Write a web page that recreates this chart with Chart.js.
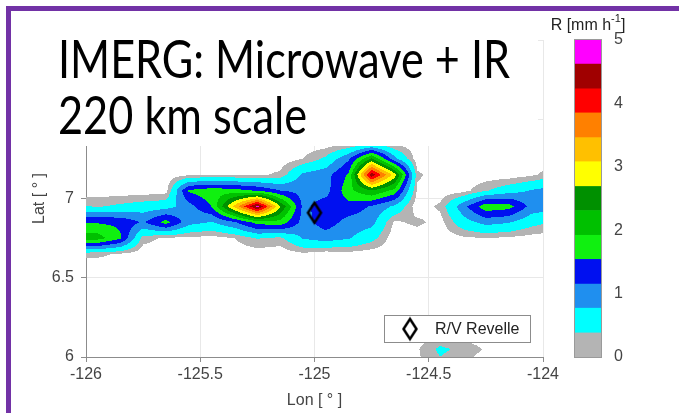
<!DOCTYPE html>
<html>
<head>
<meta charset="utf-8">
<script src="https://cdn.jsdelivr.net/npm/chart.js@4.4.1/dist/chart.umd.min.js"></script>
<style>
  html, body { margin: 0; padding: 0; background: #fff; }
  #wrap { position: relative; width: 679px; height: 413px; overflow: hidden; background: #fff; }
  #mapChart { position: absolute; left: 0; top: 0; }
  #barChart { position: absolute; left: 540px; top: 0; }
  #frame { position: absolute; left: 6px; top: 6px; width: 700px; height: 420px;
           border-left: 5px solid #7232a6; border-top: 5px solid #7232a6; pointer-events: none; }
</style>
</head>
<body>
<div id="wrap">
  <canvas id="mapChart" width="679" height="413"></canvas>
  <canvas id="barChart" width="139" height="413"></canvas>
  <div id="frame"></div>
</div>
<script>
// grid node longitudes (0.1 deg), west -> east
const lons = [-126.05, -125.95, -125.85, -125.75, -125.65, -125.55, -125.45, -125.35, -125.25, -125.15, -125.05,
              -124.95, -124.85, -124.75, -124.65, -124.55, -124.45, -124.35, -124.25, -124.15, -124.05, -123.95];
// grid node latitudes, north -> south (one row of rain per latitude)
const lats = [7.45, 7.35, 7.25, 7.15, 7.05, 6.95, 6.85, 6.75, 6.65, 6.55, 6.45, 6.35, 6.25, 6.15, 6.05, 5.95];

// rain rate R [mm/h]
const rain = [
  [0,    0,    0,    0,    0,    0,    0,    0,    0,    0,    0,    0,    0,    0,    0,    0,    0,    0,    0,    0,    0,    0   ],
  [0,    0,    0,    0,    0,    0,    0,    0,    0,    0,    0,    0,    0.05, 0.18, 0.05, 0,    0,    0,    0,    0,    0,    0   ],
  [0,    0,    0,    0,    0,    0,    0,    0,    0,    0,    0.15, 0.45, 1.1,  2.4,  0.9,  0,    0,    0,    0,    0,    0,    0   ],
  [0,    0,    0,    0,    0,    0.1,  0.1,  0.1,  0.1,  0.2,  0.85, 1.0,  1.6,  4.5,  2.9,  0.2,  0,    0,    0,    0,    0.1,  0.3 ],
  [0,    0,    0,    0,    0.05, 1.6,  1.8,  1.7,  1.5,  1.15, 1.0,  1.0,  1.8,  2.3,  1.8,  0.1,  0,    0.05, 0.35, 0.6,  0.8,  0.95],
  [0.45, 0.35, 0.45, 0.55, 0.6,  1.0,  1.55, 3.2,  4.75, 2.7,  1.05, 1.35, 1.4,  1.1,  0.7,  0,    0.2,  1.0,  1.8,  1.7,  1.0,  0.9 ],
  [1.5,  1.5,  1.45, 1.1,  1.7,  0.9,  0.75, 1.1,  1.7,  1.8,  1.0,  1.35, 1.0,  0.9,  0.1,  0.21, 0.05, 0.6,  0.9,  0.8,  0.5,  0.35],
  [2.2,  2.1,  1.6,  0.25, 0.1,  0.1,  0.05, 0.15, 0.4,  0.3,  0.8,  0.95, 0.8,  0.5,  0,    0,    0,    0.1,  0.15, 0.1,  0.05, 0   ],
  [0.2,  0.2,  0.12, 0,    0,    0,    0,    0,    0,    0,    0.1,  0,    0.05, 0,    0,    0,    0,    0,    0,    0,    0,    0   ],
  [0,    0,    0,    0,    0,    0,    0,    0,    0,    0,    0,    0,    0,    0,    0,    0,    0,    0,    0,    0,    0,    0   ],
  [0,    0,    0,    0,    0,    0,    0,    0,    0,    0,    0,    0,    0,    0,    0,    0,    0,    0,    0,    0,    0,    0   ],
  [0,    0,    0,    0,    0,    0,    0,    0,    0,    0,    0,    0,    0,    0,    0,    0,    0,    0,    0,    0,    0,    0   ],
  [0,    0,    0,    0,    0,    0,    0,    0,    0,    0,    0,    0,    0,    0,    0,    0,    0,    0,    0,    0,    0,    0   ],
  [0,    0,    0,    0,    0,    0,    0,    0,    0,    0,    0,    0,    0,    0,    0,    0,    0.08, 0,    0,    0,    0,    0   ],
  [0,    0,    0,    0,    0,    0,    0,    0,    0,    0,    0,    0,    0,    0,    0,    0.12, 0.45, 0.3,  0.12, 0,    0,    0   ],
  [0,    0,    0,    0,    0,    0,    0,    0,    0,    0,    0,    0,    0,    0,    0,    0.1,  0.3,  0.15, 0,    0,    0,    0   ]
];

// contour levels and their colours (colorbar, bottom -> top)
const levels = [0, 0.38, 0.77, 1.15, 1.54, 1.92, 2.31, 2.69, 3.08, 3.46, 3.85, 4.23, 4.62, 5];
const levelColors = ['#b4b4b4', '#00ffff', '#1f8fef', '#0010f0', '#10f010', '#00c000', '#009000',
                     '#ffff00', '#ffc000', '#ff8000', '#ff0000', '#a00000', '#ff00ff'];
const WHITE_BELOW = 0.15;   // below this nothing is filled

const xTicks = [-126, -125.5, -125, -124.5, -124];
const yTicks = [6, 6.5, 7, 7.5, 8];
const cbTicks = [0, 1, 2, 3, 4, 5];

const shipLabel = 'R/V Revelle';
const shipLon = [-125.0];
const shipLat = [6.91];

const AXIS_FONT = { family: "'Liberation Sans', Arial, sans-serif", size: 16 };
const TEXT_COLOR = '#444';

function rainAt(lon, lat) {
  const fx = (lon - lons[0]) / (lons[1] - lons[0]);
  const fy = (lats[0] - lat) / (lats[0] - lats[1]);
  const i = Math.floor(fx), j = Math.floor(fy);
  if (i < 0 || j < 0 || i >= lons.length - 1 || j >= lats.length - 1) return 0;
  const tx = fx - i, ty = fy - j;
  const a = rain[j], b = rain[j + 1];
  return (a[i] * (1 - tx) + a[i + 1] * tx) * (1 - ty) + (b[i] * (1 - tx) + b[i + 1] * tx) * ty;
}

function hexRgb(h) {
  return [parseInt(h.slice(1, 3), 16), parseInt(h.slice(3, 5), 16), parseInt(h.slice(5, 7), 16)];
}
const levelRgb = levelColors.map(hexRgb);

// tall hollow diamond like the matlab marker
function diamondImage(w, h, lw) {
  const c = document.createElement('canvas');
  c.width = w + lw * 2 + 2;
  c.height = h + lw * 2 + 2;
  const g = c.getContext('2d');
  const cx = c.width / 2, cy = c.height / 2;
  g.beginPath();
  g.moveTo(cx, cy - h / 2);
  g.lineTo(cx + w / 2, cy);
  g.lineTo(cx, cy + h / 2);
  g.lineTo(cx - w / 2, cy);
  g.closePath();
  g.lineWidth = lw;
  g.strokeStyle = '#000';
  g.stroke();
  return c;
}
const shipMarker = diamondImage(13, 20, 2.5);

// filled contours, sampled per pixel through the chart scales
const contourFill = {
  id: 'contourFill',
  beforeDatasetsDraw(chart) {
    const { ctx, chartArea: a, scales: { x, y } } = chart;
    const w = Math.round(a.right - a.left), h = Math.round(a.bottom - a.top);
    const off = document.createElement('canvas');
    off.width = w; off.height = h;
    const octx = off.getContext('2d');
    const img = octx.createImageData(w, h);
    const colLon = [];
    for (let px = 0; px < w; px++) colLon.push(x.getValueForPixel(a.left + px + 0.5));
    for (let py = 0; py < h; py++) {
      const lat = y.getValueForPixel(a.top + py + 0.5);
      for (let px = 0; px < w; px++) {
        const v = rainAt(colLon[px], lat);
        if (v < WHITE_BELOW) continue;
        let k = levels.length - 2;
        while (k > 0 && v < levels[k]) k--;
        const c = levelRgb[k];
        const o = (py * w + px) * 4;
        img.data[o] = c[0]; img.data[o + 1] = c[1]; img.data[o + 2] = c[2]; img.data[o + 3] = 255;
      }
    }
    octx.putImageData(img, 0, 0);
    ctx.drawImage(off, a.left, a.top);
  }
};

function drawFitted(ctx, text, x, baseline, width, size) {
  ctx.font = size + 'px Lato, "Open Sans", sans-serif';
  const m = ctx.measureText(text).width;
  ctx.save();
  ctx.translate(x, baseline);
  ctx.scale(width / m, 1);
  ctx.fillText(text, 0, 0);
  ctx.restore();
}

// pasted title box and the legend box
const overlay = {
  id: 'overlay',
  afterDraw(chart) {
    const { ctx, chartArea: a } = chart;
    ctx.save();
    ctx.fillStyle = '#fff';
    ctx.fillRect(0, 0, a.right - 5, 146);
    ctx.fillStyle = '#000';
    ctx.textBaseline = 'alphabetic';
    drawFitted(ctx, 'IMERG: Microwave + IR', 58, 78, 452, 52);
    drawFitted(ctx, '220 km scale', 58, 134, 249, 52);

    // legend
    const lx = a.right - 159, ly = a.bottom - 42, lw = 146, lh = 27;
    ctx.fillStyle = '#fff';
    ctx.fillRect(lx, ly, lw, lh);
    ctx.strokeStyle = '#8c8c8c';
    ctx.lineWidth = 1;
    ctx.strokeRect(lx + 0.5, ly + 0.5, lw, lh);
    ctx.drawImage(shipMarker, lx + 26 - shipMarker.width / 2, ly + 14 - shipMarker.height / 2);
    ctx.fillStyle = '#222';
    ctx.font = '16px "Liberation Sans", Arial, sans-serif';
    ctx.textBaseline = 'middle';
    ctx.fillText(shipLabel, lx + 51, ly + 15);
    ctx.restore();
  }
};

new Chart(document.getElementById('mapChart'), {
  type: 'scatter',
  data: {
    datasets: [{
      label: shipLabel,
      data: shipLon.map((v, i) => ({ x: v, y: shipLat[i] })),
      pointStyle: shipMarker,
      pointRadius: 10,
      pointHoverRadius: 10
    }]
  },
  options: {
    responsive: false,
    animation: false,
    events: [],
    layout: { padding: { left: 0, right: 136, top: 40, bottom: 0 } },
    plugins: { legend: { display: false }, tooltip: { enabled: false } },
    scales: {
      x: {
        type: 'linear', min: -126, max: -124,
        afterBuildTicks: (s) => { s.ticks = xTicks.map((v) => ({ value: v })); },
        afterFit: (s) => { s.height = 56; },
        ticks: { callback: (v) => String(v), font: AXIS_FONT, color: TEXT_COLOR, padding: 3, maxRotation: 0, autoSkip: false },
        grid: { color: '#e8e8e8', tickColor: '#8c8c8c', tickLength: 5 },
        border: { color: '#8c8c8c' },
        title: { display: true, text: 'Lon [ \u00b0 ]', font: AXIS_FONT, color: TEXT_COLOR, padding: { top: 0, bottom: 3 } }
      },
      y: {
        type: 'linear', min: 6, max: 8,
        afterBuildTicks: (s) => { s.ticks = yTicks.map((v) => ({ value: v })); },
        afterFit: (s) => { s.width = 86; },
        ticks: { callback: (v) => String(v), font: AXIS_FONT, color: TEXT_COLOR, padding: 7, autoSkip: false },
        grid: { color: '#e8e8e8', tickColor: '#8c8c8c', tickLength: 5 },
        border: { color: '#8c8c8c' },
        title: { display: true, text: 'Lat [ \u00b0 ]', font: AXIS_FONT, color: TEXT_COLOR, padding: { top: 30, bottom: 0 } }
      }
    }
  },
  plugins: [contourFill, overlay]
});

// colorbar frame and its unit label
const cbDecor = {
  id: 'cbDecor',
  afterDraw(chart) {
    const { ctx, chartArea: a } = chart;
    ctx.save();
    ctx.strokeStyle = '#9a9a9a';
    ctx.lineWidth = 1;
    ctx.strokeRect(Math.round(a.left) - 0.5, Math.round(a.top) - 0.5, a.right - a.left + 1, a.bottom - a.top + 1);
    const big = '16px "Liberation Sans", Arial, sans-serif';
    const small = '11px "Liberation Sans", Arial, sans-serif';
    ctx.font = big;
    const w1 = ctx.measureText('R [mm h').width, w3 = ctx.measureText(']').width;
    ctx.font = small;
    const w2 = ctx.measureText('-1').width;
    let x = (a.left + a.right) / 2 - (w1 + w2 + w3) / 2;
    const base = 30;
    ctx.fillStyle = '#222';
    ctx.textBaseline = 'alphabetic';
    ctx.font = big; ctx.fillText('R [mm h', x, base); x += w1;
    ctx.font = small; ctx.fillText('-1', x, base - 8); x += w2;
    ctx.font = big; ctx.fillText(']', x, base);
    ctx.restore();
  }
};

new Chart(document.getElementById('barChart'), {
  type: 'bar',
  data: {
    labels: ['R'],
    datasets: levelColors.map((c, i) => ({
      data: [[levels[i], levels[i + 1]]],
      backgroundColor: c,
      borderWidth: 0,
      grouped: false,
      barPercentage: 1,
      categoryPercentage: 1
    }))
  },
  options: {
    responsive: false,
    animation: false,
    events: [],
    layout: { padding: { left: 35, right: 48, top: 40, bottom: 56 } },
    plugins: { legend: { display: false }, tooltip: { enabled: false } },
    scales: {
      x: { display: false },
      y: {
        position: 'right', min: 0, max: 5,
        afterBuildTicks: (s) => { s.ticks = cbTicks.map((v) => ({ value: v })); },
        afterFit: (s) => { s.width = 30; },
        grid: { display: false },
        border: { display: false },
        ticks: { font: AXIS_FONT, color: TEXT_COLOR, padding: 5 }
      }
    }
  },
  plugins: [cbDecor]
});
</script>
</body>
</html>
